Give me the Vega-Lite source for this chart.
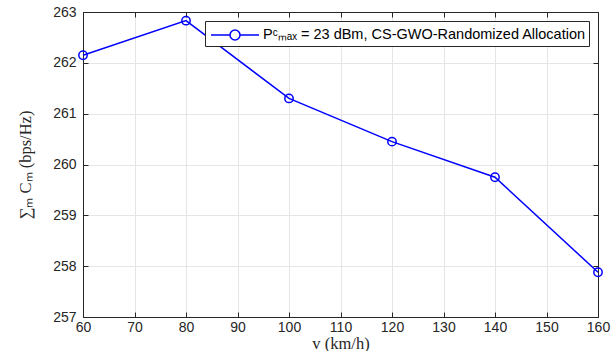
{
  "$schema": "https://vega.github.io/schema/vega-lite/v6.json",
  "width": 515,
  "height": 305,
  "autosize": {"type": "none"},
  "padding": {"left": 83, "top": 12, "right": 17, "bottom": 34},
  "background": "white",
  "config": {
    "view": {"stroke": "#262626", "strokeWidth": 1},
    "axis": {
      "labelFont": "Liberation Sans",
      "labelFontSize": 14,
      "labelColor": "#262626",
      "labelFlush": false,
      "titleFont": "Liberation Serif",
      "titleFontSize": 16.5,
      "titleFontWeight": "normal",
      "titleColor": "#262626",
      "domainColor": "#262626",
      "tickColor": "#262626",
      "gridColor": "#e5e5e5",
      "gridOpacity": 1
    },
    "legend": {
      "labelFont": "Liberation Sans",
      "labelFontSize": 14.5,
      "labelColor": "#000000",
      "labelLimit": 0
    }
  },
  "data": {
    "values": [
      {"v": 60, "C": 262.15, "series": "Pᶜₘₐₓ = 23 dBm, CS-GWO-Randomized Allocation"},
      {"v": 80, "C": 262.83, "series": "Pᶜₘₐₓ = 23 dBm, CS-GWO-Randomized Allocation"},
      {"v": 100, "C": 261.3, "series": "Pᶜₘₐₓ = 23 dBm, CS-GWO-Randomized Allocation"},
      {"v": 120, "C": 260.45, "series": "Pᶜₘₐₓ = 23 dBm, CS-GWO-Randomized Allocation"},
      {"v": 140, "C": 259.75, "series": "Pᶜₘₐₓ = 23 dBm, CS-GWO-Randomized Allocation"},
      {"v": 160, "C": 257.88, "series": "Pᶜₘₐₓ = 23 dBm, CS-GWO-Randomized Allocation"}
    ]
  },
  "layer": [
    {
      "mark": {"type": "line", "strokeWidth": 1.5},
      "encoding": {
        "x": {
          "field": "v", "type": "quantitative",
          "scale": {"domain": [60, 160], "nice": false},
          "axis": {"values": [60,70,80,90,100,110,120,130,140,150,160], "title": "v (km/h)", "tickSize": -5, "labelPadding": 8, "titlePadding": 1, "grid": true}
        },
        "y": {
          "field": "C", "type": "quantitative",
          "scale": {"domain": [257, 263], "nice": false, "zero": false},
          "axis": {"values": [257,258,259,260,261,262,263], "title": "∑ₘ Cₘ (bps/Hz)", "tickSize": -5, "labelPadding": 12, "titlePadding": 19, "grid": true}
        },
        "color": {
          "field": "series", "type": "nominal",
          "scale": {"range": ["#0000ff"]},
          "legend": {
            "title": null,
            "orient": "top-right",
            "offset": 9,
            "strokeColor": "#262626",
            "fillColor": "white",
            "padding": 3,
            "symbolType": "M-0.8,0L1.1,0M2.1,0L4,0M1.1,0A0.5,0.5 0 1,0 2.1,0A0.5,0.5 0 1,0 1.1,0",
            "symbolSize": 400,
            "symbolStrokeWidth": 1.5,
            "symbolFillColor": "transparent",
            "symbolStrokeColor": "#0000ff",
            "labelOffset": 33
          }
        }
      }
    },
    {
      "mark": {"type": "point", "shape": "circle", "filled": false, "size": 70, "strokeWidth": 1.5, "opacity": 1},
      "encoding": {
        "x": {
          "field": "v", "type": "quantitative",
          "axis": {"orient": "top", "values": [60,70,80,90,100,110,120,130,140,150,160], "labels": false, "title": null, "tickSize": -5, "grid": false}
        },
        "y": {
          "field": "C", "type": "quantitative",
          "axis": {"orient": "right", "values": [257,258,259,260,261,262,263], "labels": false, "title": null, "tickSize": -5, "grid": false}
        },
        "color": {"field": "series", "type": "nominal", "legend": null}
      }
    }
  ],
  "resolve": {"axis": {"x": "independent", "y": "independent"}}
}
